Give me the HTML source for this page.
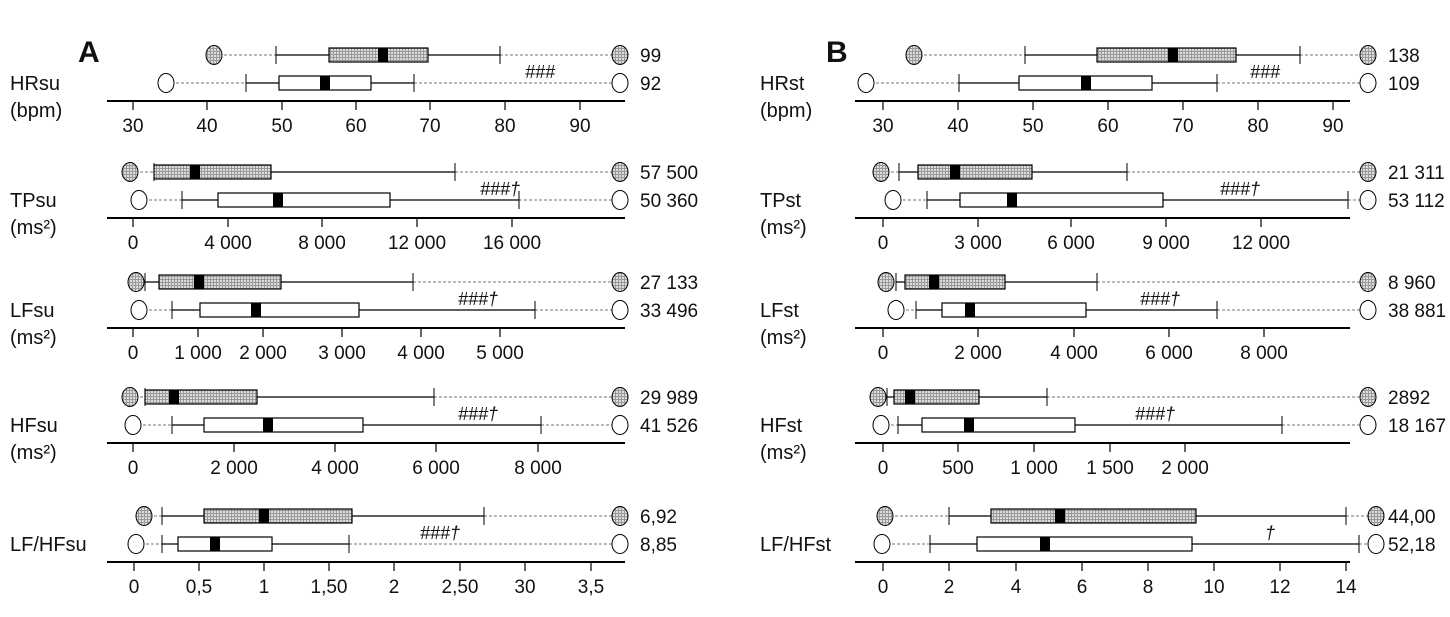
<!DOCTYPE html>
<html><head><meta charset="utf-8">
<style>
html,body{margin:0;padding:0;background:#fff;}
svg text{font-family:"Liberation Sans Narrow","Liberation Sans",sans-serif;fill:#111;}
</style></head>
<body>
<svg id="s" width="1450" height="612" xmlns="http://www.w3.org/2000/svg">
<defs>
<pattern id="hatch" width="3" height="3" patternUnits="userSpaceOnUse">
<rect width="3" height="3" fill="#dcdcdc"/>
<rect width="1" height="3" fill="#999"/>
<rect width="3" height="1" fill="#999"/>
</pattern>
</defs>
</svg>
<script>
var s=document.getElementById('s');var h='';
function row(y,g,c){var cl=c[0],wl=c[1],q1=c[2],md=c[3],q3=c[4],wh=c[5],cr=c[6];
 var f=g?'url(#hatch)':'#fff';
 h+='<line x1="'+cl+'" y1="'+y+'" x2="'+wl+'" y2="'+y+'" stroke="#777" stroke-dasharray="3,2"/>';
 h+='<line x1="'+wh+'" y1="'+y+'" x2="'+cr+'" y2="'+y+'" stroke="#777" stroke-dasharray="3,2"/>';
 h+='<line x1="'+wl+'" y1="'+y+'" x2="'+wh+'" y2="'+y+'" stroke="#000" stroke-width="1.2"/>';
 h+='<line x1="'+wl+'" y1="'+(y-9)+'" x2="'+wl+'" y2="'+(y+9)+'" stroke="#000"/>';
 h+='<line x1="'+wh+'" y1="'+(y-9)+'" x2="'+wh+'" y2="'+(y+9)+'" stroke="#000"/>';
 h+='<rect x="'+q1+'" y="'+(y-7)+'" width="'+(q3-q1)+'" height="14" fill="'+f+'" stroke="#000" stroke-width="1.2"/>';
 h+='<rect x="'+(md-5)+'" y="'+(y-7)+'" width="10" height="14" fill="#000"/>';
 h+='<ellipse cx="'+cl+'" cy="'+y+'" rx="8" ry="9.5" fill="'+f+'" stroke="#000"/>';
 h+='<ellipse cx="'+cr+'" cy="'+y+'" rx="8" ry="9.5" fill="'+f+'" stroke="#000"/>';
}
function txt(x,y,t,sz,a,extra){h+='<text x="'+x+'" y="'+y+'" font-size="'+sz+'"'+(a?' text-anchor="'+a+'"':'')+(extra||'')+'>'+t+'</text>';}
function block(P){
 row(P.y,true,P.g);row(P.y+28,false,P.w);
 var ay=P.y+46;
 h+='<line x1="'+P.ax[0]+'" y1="'+ay+'" x2="'+P.ax[1]+'" y2="'+ay+'" stroke="#000" stroke-width="2"/>';
 P.t.forEach(function(t){h+='<line x1="'+t[0]+'" y1="'+ay+'" x2="'+t[0]+'" y2="'+(ay+9)+'" stroke="#000" stroke-width="1.2"/>';txt(t[0],ay+31,t[1],19,'middle');});
 txt(P.vx,P.y+7,P.v[0],19);txt(P.vx,P.y+35,P.v[1],19);
 txt(P.lx,P.y+35,P.l[0],20);if(P.l[1])txt(P.lx,P.y+62,P.l[1],20);
 txt(P.sx,P.y+23,P.sig,18,'middle',' font-style="italic"');
}
var A=[107,625],B=[855,1350];
var blocks=[
{y:55,ax:A,vx:640,lx:10,l:['HRsu','(bpm)'],v:['99','92'],sig:'###',sx:540,
 g:[214,276,329,383,428,500,620],w:[166,246,279,325,371,414,620],
 t:[[133,'30'],[207,'40'],[282,'50'],[356,'60'],[430,'70'],[505,'80'],[580,'90']]},
{y:172,ax:A,vx:640,lx:10,l:['TPsu','(ms²)'],v:['57 500','50 360'],sig:'###†',sx:500,
 g:[130,154,154,195,271,455,620],w:[139,182,218,278,390,519,620],
 t:[[133,'0'],[228,'4 000'],[322,'8 000'],[417,'12 000'],[512,'16 000']]},
{y:282,ax:A,vx:640,lx:10,l:['LFsu','(ms²)'],v:['27 133','33 496'],sig:'###†',sx:478,
 g:[136,145,159,199,281,413,620],w:[139,172,200,256,359,535,620],
 t:[[133,'0'],[198,'1 000'],[263,'2 000'],[342,'3 000'],[421,'4 000'],[500,'5 000']]},
{y:397,ax:A,vx:640,lx:10,l:['HFsu','(ms²)'],v:['29 989','41 526'],sig:'###†',sx:478,
 g:[130,145,145,174,257,434,620],w:[133,172,204,268,363,541,620],
 t:[[133,'0'],[234,'2 000'],[335,'4 000'],[436,'6 000'],[538,'8 000']]},
{y:516,ax:A,vx:640,lx:10,l:['LF/HFsu',''],v:['6,92','8,85'],sig:'###†',sx:440,
 g:[144,162,204,264,352,484,620],w:[136,162,178,215,272,349,620],
 t:[[134,'0'],[199,'0,5'],[264,'1'],[329,'1,50'],[394,'2'],[460,'2,50'],[525,'30'],[591,'3,5']]},
{y:55,ax:B,vx:1388,lx:760,l:['HRst','(bpm)'],v:['138','109'],sig:'###',sx:1265,
 g:[914,1025,1097,1173,1236,1300,1368],w:[866,959,1019,1086,1152,1217,1368],
 t:[[883,'30'],[958,'40'],[1033,'50'],[1108,'60'],[1183,'70'],[1258,'80'],[1333,'90']]},
{y:172,ax:B,vx:1388,lx:760,l:['TPst','(ms²)'],v:['21 311','53 112'],sig:'###†',sx:1240,
 g:[881,899,918,955,1032,1127,1368],w:[893,927,960,1012,1163,1348,1368],
 t:[[883,'0'],[978,'3 000'],[1071,'6 000'],[1166,'9 000'],[1261,'12 000']]},
{y:282,ax:B,vx:1388,lx:760,l:['LFst','(ms²)'],v:['8 960','38 881'],sig:'###†',sx:1160,
 g:[886,896,905,934,1005,1097,1368],w:[896,916,942,970,1086,1217,1368],
 t:[[883,'0'],[978,'2 000'],[1074,'4 000'],[1169,'6 000'],[1264,'8 000']]},
{y:397,ax:B,vx:1388,lx:760,l:['HFst','(ms²)'],v:['2892','18 167'],sig:'###†',sx:1155,
 g:[878,887,894,910,979,1047,1368],w:[881,898,922,969,1075,1282,1368],
 t:[[883,'0'],[958,'500'],[1034,'1 000'],[1110,'1 500'],[1185,'2 000']]},
{y:516,ax:B,vx:1388,lx:760,l:['LF/HFst',''],v:['44,00','52,18'],sig:'†',sx:1270,
 g:[885,949,991,1060,1196,1346,1376],w:[882,930,977,1045,1192,1359,1376],
 t:[[883,'0'],[949,'2'],[1016,'4'],[1082,'6'],[1148,'8'],[1214,'10'],[1280,'12'],[1346,'14']]}
];
blocks.forEach(block);
txt(78,62,'A',30,null,' font-weight="bold" font-family="Liberation Sans"');
txt(826,62,'B',30,null,' font-weight="bold" font-family="Liberation Sans"');
s.insertAdjacentHTML('beforeend',h);
</script>
</body></html>
